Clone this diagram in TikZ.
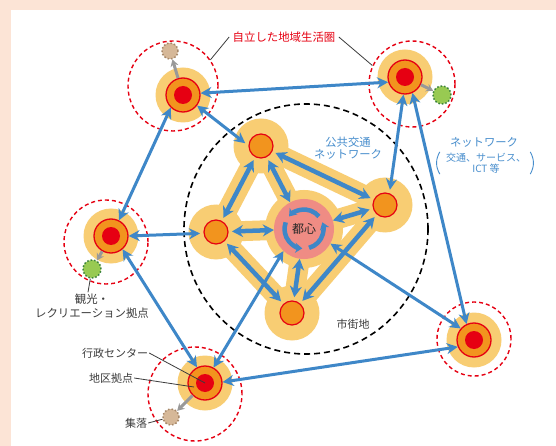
\documentclass[tikz,border=0pt]{standalone}
\usepackage{fontspec}
\setmainfont{Noto Sans CJK JP}
\usetikzlibrary{arrows.meta}
\definecolor{usubeni}{RGB}{252,228,214}
\definecolor{kiiro}{RGB}{248,205,115}
\definecolor{daidai}{RGB}{242,148,30}
\definecolor{aka}{RGB}{230,0,18}
\definecolor{momo}{RGB}{239,140,132}
\definecolor{ao}{RGB}{62,135,200}
\definecolor{mojiao}{RGB}{72,142,205}
\definecolor{cha}{RGB}{214,184,152}
\definecolor{chawaku}{RGB}{165,135,105}
\definecolor{midori}{RGB}{152,202,82}
\definecolor{midoriwaku}{RGB}{60,130,60}
\definecolor{sumi}{RGB}{60,60,60}
\tikzset{
	halo/.style={circle, fill=kiiro, minimum size=55pt, inner sep=0pt},
	hub/.style={circle, fill=daidai, draw=aka, line width=1.3pt, minimum size=34pt, inner sep=0pt},
	hubdot/.style={circle, fill=aka, minimum size=18pt, inner sep=0pt},
	ring/.style={circle, draw=aka, line width=1.4pt, dash pattern=on 4pt off 3pt, inner sep=0pt},
	eki/.style={circle, fill=daidai, draw=aka, line width=1.2pt, minimum size=24pt, inner sep=0pt, outer sep=4pt},
	band/.style={draw=kiiro, line width=20pt},
	link/.style={draw=ao, line width=3pt, {Stealth[length=11pt,width=11pt]}-{Stealth[length=11pt,width=11pt]}},
	tram/.style={draw=ao, line width=4.5pt, {Stealth[length=11pt,width=12pt]}-{Stealth[length=11pt,width=12pt]}},
	whirl/.style={draw=ao, line width=4.5pt, -{Stealth[length=7pt,width=10pt]}},
	spur/.style={draw=gray!80, line width=3pt, -{Stealth[length=7pt,width=8pt]}},
	village/.style={circle, fill=cha, draw=chawaku, line width=1.5pt, dotted, minimum size=16pt, inner sep=0pt},
	resort/.style={circle, fill=midori, draw=midoriwaku, line width=1.5pt, dotted, minimum size=18pt, inner sep=0pt},
	leader/.style={draw=sumi, line width=0.8pt},
	lbl/.style={text=sumi, inner sep=1pt, align=center},
	paren/.style={draw=mojiao, line width=0.9pt}
}
\begin{document}
\begin{tikzpicture}[x=1pt, y=-1pt, font=\fontsize{11}{12}\selectfont, line join=round]
	\useasboundingbox (0,0) rectangle (556,446);
	\fill[usubeni] (0,0) rectangle (556,446);
	\fill[white] (11,10) rectangle (556,446);
	\draw[black, line width=1.6pt, dash pattern=on 6pt off 4pt] (306,229) ellipse [x radius=122, y radius=125];
	\node[ring, minimum size=90pt] (nwRing) at (173,86) {};
	\node[ring, minimum size=86pt] (neRing) at (412,84) {};
	\node[ring, minimum size=84pt] (wRing) at (106,242) {};
	\node[ring, minimum size=94pt] (swRing) at (195,394) {};
	\node[ring, minimum size=74pt] (seRing) at (474,339) {};
	\coordinate (itc) at (261,146);
	\coordinate (irc) at (385,205);
	\coordinate (ilc) at (216,232);
	\coordinate (ibc) at (292,313);
	\coordinate (ccc) at (304,229);
	\draw[band] (itc) -- (irc) -- (ibc) -- (ilc) -- cycle;
	\draw[band] (itc) -- (ccc) -- (ibc);
	\draw[band] (ilc) -- (ccc) -- (irc);
	\node[halo, minimum size=78pt] (ccHalo) at (ccc) {};
	\node[halo] (itHalo) at (itc) {};
	\node[halo] (irHalo) at (irc) {};
	\node[halo] (ilHalo) at (ilc) {};
	\node[halo] (ibHalo) at (ibc) {};
	\node[eki] (it) at (itc) {};
	\node[eki] (ir) at (irc) {};
	\node[eki] (il) at (ilc) {};
	\node[eki] (ib) at (ibc) {};
	\node[circle, fill=momo, minimum size=60pt, inner sep=0pt, text=black!85, font=\fontsize{12}{13}\selectfont] (cc) at (ccc) {都心};
	\begin{scope}[shift={(cc.center)}, y=1pt]
		\draw[whirl] (40:19.5) arc (40:140:19.5);
		\draw[whirl] (160:19.5) arc (160:265:19.5);
		\draw[whirl] (285:19.5) arc (285:380:19.5);
	\end{scope}
	\node[halo] (nwHalo) at (183,95) {};
	\node[hub] (nw) at (183,95) {};
	\node[hubdot] (nwDot) at (nw) {};
	\node[halo] (neHalo) at (405,77) {};
	\node[hub] (ne) at (405,77) {};
	\node[hubdot] (neDot) at (ne) {};
	\node[halo] (wHalo) at (111,236) {};
	\node[hub] (w) at (111,236) {};
	\node[hubdot] (wDot) at (w) {};
	\node[halo] (swHalo) at (205,383) {};
	\node[hub] (sw) at (205,383) {};
	\node[hubdot] (swDot) at (sw) {};
	\node[halo] (seHalo) at (474,340) {};
	\node[hub] (se) at (474,340) {};
	\node[hubdot] (seDot) at (se) {};
	\node[village] (nwSat) at (170,51) {};
	\node[resort] (neSat) at (442,95) {};
	\node[resort] (wSat) at (92,269) {};
	\node[village] (swSat) at (171,417) {};
	\draw[spur] (nw) -- (nwSat);
	\draw[spur] (ne) -- (neSat);
	\draw[spur] (w) -- (wSat);
	\draw[spur] (sw) -- (swSat);
	\draw[tram] (it) -- (ir);
	\draw[tram] (it) -- (il);
	\draw[tram] (it) -- (cc);
	\draw[tram] (il) -- (cc);
	\draw[tram] (ir) -- (cc);
	\draw[tram] (ib) -- (cc);
	\draw[tram] (il) -- (ib);
	\draw[tram] (ir) -- (ib);
	\draw[link] (nw.6) -- (ne.197);
	\draw[link] (nw.-134) -- (w.63);
	\draw[link] (nw.-37) -- (it.170);
	\draw[link] (ne.-95) -- (ir.72);
	\draw[link] (ne.-65) -- (se.115);
	\draw[link] (w.0) -- (il.185);
	\draw[link] (w.-49) -- (sw.117);
	\draw[link] (sw.61) -- (cc.227);
	\draw[link] (sw.3) -- (se.203);
	\draw[link] (cc.-29) -- (se.139);
	\node[text=aka, font=\fontsize{11.4}{12}\selectfont] (ttl) at (284,37) {自立した地域生活圏};
	\draw[leader] (ttl.west) -- (nwRing.35);
	\draw[leader] (ttl.east) -- (neRing.155);
	\node[text=mojiao, align=center, font=\fontsize{11.3}{11.5}\selectfont, inner sep=0pt] (kokyo) at (348,148) {公共交通\\ネットワーク};
	\node[text=mojiao, inner sep=0pt, font=\fontsize{11.3}{12}\selectfont] (netw) at (484,142) {ネットワーク};
	\node[text=mojiao, align=center, font=\fontsize{10}{10.6}\selectfont, inner sep=0pt] (netwSub) at (486,163) {交通、サービス、\\ICT 等};
	\draw[paren] ([xshift=-6pt,yshift=1pt]netwSub.north west) to[bend right=30] ([xshift=-6pt,yshift=-1pt]netwSub.south west);
	\draw[paren] ([xshift=4pt,yshift=1pt]netwSub.north east) to[bend left=30] ([xshift=4pt,yshift=-1pt]netwSub.south east);
	\node[lbl] (shigaichi) at (353,324) {市街地};
	\node[lbl, font=\fontsize{11.4}{14.6}\selectfont] (kanko) at (92,306) {観光・\\レクリエーション拠点};
	\draw[leader] ([xshift=-4pt]kanko.north) -- (wSat);
	\node[lbl] (gyosei) at (115,353) {行政センター};
	\draw[leader] (gyosei.east) -- (swDot.center);
	\node[lbl] (chiku) at (111,378) {地区拠点};
	\coordinate (swEdge) at (194,387);
	\draw[leader] (chiku.east) -- (swEdge);
	\node[lbl] (shuraku) at (136,423) {集落};
	\draw[leader] (shuraku.east) -- (swSat);
\end{tikzpicture}
\end{document}
